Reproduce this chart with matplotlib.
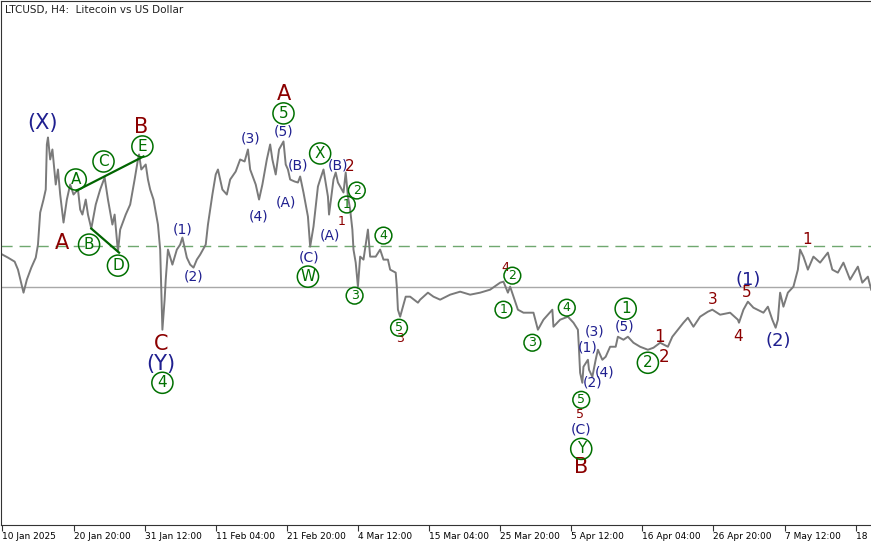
import matplotlib
matplotlib.use("Agg")
import matplotlib.pyplot as plt

# H4 bar index vs price
bars = [0, 5, 11, 14, 19, 22, 26, 30, 32, 34, 37, 39, 40, 41, 43, 45, 48, 50, 52, 55,
        58, 61, 64, 68, 70, 72, 75, 77, 80, 84, 88, 92, 95, 99, 101, 104, 106, 111, 115, 119,
        122, 123, 125, 129, 131, 133, 136, 140, 142, 143, 144, 146, 147, 149, 153, 157, 160, 162, 166, 169,
        172, 175, 178, 183, 185, 189, 192, 194, 198, 202, 205, 210, 214, 218, 221, 223, 228, 231, 234, 238,
        241, 243, 246, 249, 253, 255, 257, 259, 263, 266, 268, 271, 275, 277, 280, 284, 286, 289, 293, 294,
        298, 300, 302, 307, 309, 311, 313, 315, 316, 318, 320, 322, 325, 329, 331, 336, 340, 343, 347, 349,
        354, 355, 356, 358, 363, 367, 374, 376, 383, 388, 394, 403, 412, 421, 430, 439, 448, 451, 455, 457,
        460, 464, 469, 478, 482, 487, 495, 496, 502, 509, 514, 518, 519, 520, 522, 523, 527, 528, 531, 534,
        536, 540, 543, 547, 552, 554, 559, 563, 568, 574, 581, 586, 592, 599, 603, 608, 613, 617, 622, 628,
        635, 639, 646, 655, 662, 663, 667, 671, 676, 685, 689, 693, 696, 698, 700, 703, 707, 712, 716, 718,
        721, 725, 730, 736, 743, 747, 752, 757, 763, 770, 774, 779, 782]
price = [106.5, 105.6, 104.4, 102.0, 95.1, 99.0, 102.6, 105.6, 109.5, 119.1, 123.0, 126.0, 139.5, 141.6, 135.0, 138.0, 127.5, 132.0, 124.5, 116.1,
         123.0, 127.5, 124.5, 126.0, 120.0, 118.5, 123.0, 118.5, 114.3, 121.5, 126.0, 129.6, 123.0, 115.5, 118.5, 107.4, 114.0, 118.5, 121.5, 129.0,
         135.0, 136.5, 132.0, 133.5, 129.0, 126.0, 123.0, 115.5, 108.0, 96.0, 84.0, 93.0, 99.0, 108.0, 103.5, 108.0, 109.5, 111.6, 105.6, 103.5,
         102.6, 105.0, 106.5, 109.5, 115.5, 124.5, 130.5, 132.0, 126.0, 124.5, 129.0, 131.4, 135.0, 134.4, 138.0, 132.0, 127.5, 123.0, 127.5, 135.0,
         139.5, 135.0, 130.5, 138.0, 140.4, 133.5, 132.0, 129.0, 128.4, 128.1, 129.9, 125.1, 117.9, 108.9, 114.9, 126.9, 129.0, 132.0, 123.9, 118.5,
         129.0, 131.1, 128.1, 125.1, 131.1, 123.9, 120.0, 114.0, 108.0, 104.1, 96.9, 105.9, 105.0, 114.0, 105.9, 105.9, 108.0, 105.0, 105.0, 102.0,
         101.1, 96.9, 90.0, 87.9, 93.9, 93.9, 92.1, 93.0, 95.1, 93.9, 93.0, 94.5, 95.4, 94.5, 95.1, 96.0, 98.1, 98.4, 95.1, 96.9,
         93.9, 90.0, 89.1, 89.1, 84.0, 87.0, 90.0, 84.9, 87.0, 87.9, 86.1, 84.0, 78.0, 71.1, 68.1, 72.9, 75.0, 72.0, 69.9, 75.0,
         78.0, 75.0, 75.9, 78.9, 78.9, 81.9, 81.0, 81.9, 80.1, 78.9, 78.0, 78.6, 80.1, 78.9, 81.9, 84.0, 86.1, 87.6, 84.9, 87.9,
         89.4, 90.0, 88.5, 89.1, 87.0, 86.1, 90.0, 92.4, 90.6, 89.1, 90.9, 87.0, 84.6, 87.0, 95.1, 90.9, 95.1, 96.9, 102.0, 108.0,
         105.9, 102.0, 105.9, 104.1, 107.1, 102.0, 101.1, 104.1, 99.0, 102.9, 98.1, 99.9, 96.0]

tick_pos = [0, 64, 128, 192, 256, 320, 384, 448, 512, 576, 640, 704, 768]
tick_labels = ["10 Jan 2025", "20 Jan 20:00", "31 Jan 12:00", "11 Feb 04:00", "21 Feb 20:00",
               "4 Mar 12:00", "15 Mar 04:00", "25 Mar 20:00", "5 Apr 12:00", "16 Apr 04:00",
               "26 Apr 20:00", "7 May 12:00", "18 May 04:00"]

solid_level = 96.9
dashed_level = 109.2

# wave labels: text, bar, price, style
plain_labels = [
    ("(X)", 36, 145.8, "navy", 15), ("A", 54, 110.1, "red", 15), ("B", 125, 144.6, "red", 15),
    ("C", 143, 79.8, "red", 15), ("(Y)", 143, 73.8, "navy", 15),
    ("A", 253, 154.5, "red", 15), ("(3)", 223, 141.3, "navy", 10), ("(5)", 253, 143.4, "navy", 10),
    ("(B)", 266, 133.2, "navy", 10), ("(4)", 231, 117.9, "navy", 10), ("(A)", 255, 122.1, "navy", 10),
    ("(B)", 302, 133.2, "navy", 10), ("2", 313, 132.9, "red", 11), ("1", 305, 116.4, "red", 9),
    ("(A)", 295, 112.2, "navy", 10), ("(C)", 276, 105.6, "navy", 10), ("3", 358, 81.3, "red", 9),
    ("(1)", 162, 114.0, "navy", 10), ("(2)", 172, 99.9, "navy", 10), ("4", 453, 102.6, "red", 9),
    ("(1)", 527, 78.6, "navy", 10), ("(3)", 533, 83.4, "navy", 10), ("(2)", 531, 68.1, "navy", 10),
    ("(4)", 542, 71.1, "navy", 10), ("5", 520, 58.5, "red", 9), ("(C)", 521, 54.0, "navy", 10),
    ("B", 521, 42.9, "red", 15), ("(5)", 560, 84.9, "navy", 10), ("1", 591, 81.9, "red", 12),
    ("2", 596, 75.9, "red", 12), ("3", 639, 93.0, "red", 11), ("4", 662, 81.9, "red", 11),
    ("5", 670, 95.1, "red", 11), ("(1)", 671, 99.0, "navy", 13), ("(2)", 698, 80.7, "navy", 13),
    ("1", 724, 111.0, "red", 11),
]
circled_labels = [
    ("4", 144, 68.1, 11), ("A", 66, 129.0, 11), ("C", 91, 134.4, 11), ("E", 126, 138.9, 11),
    ("B", 78, 109.5, 11), ("D", 104, 103.2, 11), ("5", 253, 148.8, 11), ("X", 286, 136.8, 11),
    ("1", 310, 121.5, 9), ("2", 319, 125.7, 9), ("W", 275, 99.9, 11), ("3", 317, 94.2, 9),
    ("4", 343, 112.2, 9), ("5", 357, 84.6, 9), ("2", 459, 100.2, 9), ("1", 451, 90.0, 9),
    ("3", 477, 80.1, 9), ("4", 508, 90.6, 9), ("5", 521, 63.0, 9), ("Y", 521, 48.3, 11),
    ("1", 561, 90.3, 11), ("2", 581, 74.1, 11),
]
trend_lines = [((67, 127), (125.7, 135.9)), ((80, 105), (114.3, 107.1))]

colors = {"navy": "#1f1f8f", "red": "#8b0000", "green": "#007000"}

fig = plt.figure(figsize=(8.71, 5.45), dpi=100)
ax = fig.add_axes([0.0015, 0.0367, 1.0, 0.961])

ax.axhline(solid_level, color="#a8a8a8", lw=1)
ax.axhline(dashed_level, color="#6fa86f", lw=1, dashes=(8, 5))
ax.plot(bars, price, color="#7a7a7a", lw=1.4)

for (x, y) in trend_lines:
    ax.plot(x, y, color="#006400", lw=1.6)

for txt, x, y, c, fs in plain_labels:
    ax.text(x, y, txt, color=colors[c], fontsize=fs, ha="center", va="center")

for txt, x, y, fs in circled_labels:
    pad = 0.2 if fs > 10 else 0.15
    ax.text(x, y, txt, color=colors["green"], fontsize=fs, ha="center", va="center",
            bbox=dict(boxstyle="circle,pad=%.2f" % pad, fc="none", ec="#007000", lw=1.1))

ax.text(0.004, 0.993, "LTCUSD, H4:  Litecoin vs US Dollar", transform=ax.transAxes,
        fontsize=7.5, color="#222222", ha="left", va="top")

ax.set_xlim(-1, 783)
ax.set_ylim(25.5, 182.4)
ax.set_yticks([])
ax.set_xticks(tick_pos)
ax.set_xticklabels(tick_labels, fontsize=6.5, ha="left")
ax.tick_params(axis="x", length=4, pad=1, color="#333333")
ax.spines["right"].set_visible(False)
for s in ["left", "bottom", "top"]:
    ax.spines[s].set_color("#333333")

fig.savefig("out.png", dpi=100)
